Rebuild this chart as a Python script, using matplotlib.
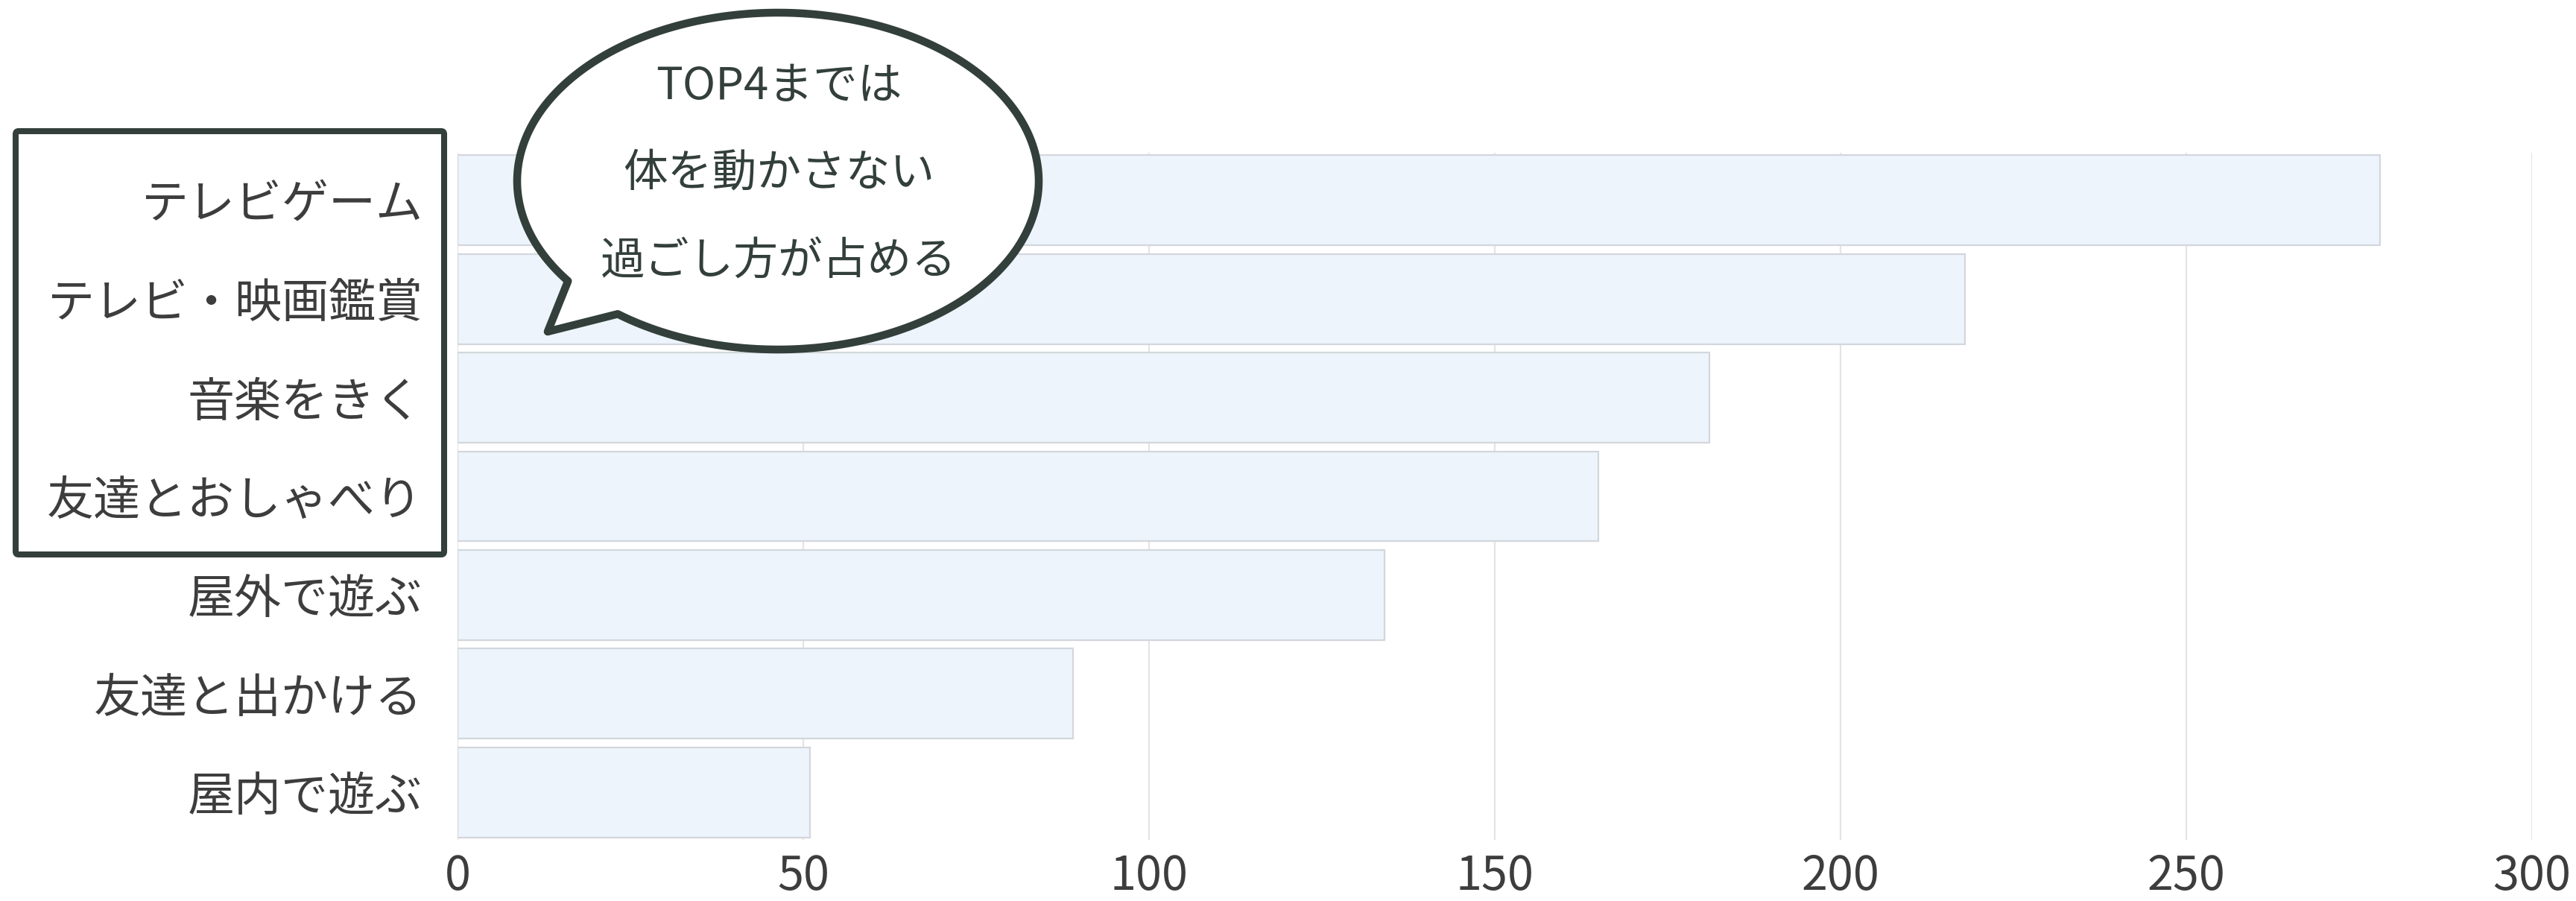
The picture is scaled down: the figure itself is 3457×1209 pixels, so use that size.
import numpy as np
import matplotlib
matplotlib.use("Agg")
import matplotlib.pyplot as plt
from matplotlib.patches import PathPatch, FancyBboxPatch
from matplotlib.path import Path

plt.rcParams['font.family'] = ['Noto Sans CJK JP', 'DejaVu Sans']

# data
categories = ['テレビゲーム', 'テレビ・映画鑑賞', '音楽をきく', '友達とおしゃべり',
              '屋外で遊ぶ', '友達と出かける', '屋内で遊ぶ']
values = [278, 218, 181, 165, 134, 89, 51]
x_ticks = [0, 50, 100, 150, 200, 250, 300]
bubble_lines = ['TOP4までは', '体を動かさない', '過ごし方が占める']

W, H, DPI = 3457, 1209, 200
DARK = '#333f3a'
TXT = '#3d3d3d'

fig = plt.figure(figsize=(W / DPI, H / DPI), dpi=DPI)
ax = fig.add_axes([614 / W, 1 - 1127 / H, (3398 - 614) / W, 922 / H])

y = np.arange(len(categories))
ax.barh(y, values, height=0.913, color='#edf4fb', edgecolor='#d3d7dc', linewidth=0.8, zorder=2)
ax.set_xlim(0, 300)
ax.set_ylim(6.48, -0.48)
ax.set_xticks(x_ticks)
ax.set_yticks(y, categories)
ax.tick_params(length=0, labelsize=22.7, colors=TXT)
ax.tick_params(axis='y', pad=17)
ax.tick_params(axis='x', pad=6)
ax.grid(axis='x', color='#e4e4e4', lw=0.8, zorder=0)
ax.set_axisbelow(True)
for s in ax.spines.values():
    s.set_visible(False)

# overlay in pixel coords for the box and the speech bubble
ov = fig.add_axes([0, 0, 1, 1])
ov.set_xlim(0, W); ov.set_ylim(H, 0); ov.axis('off')
ov.patch.set_alpha(0)

ov.add_patch(FancyBboxPatch((21, 176), 575, 568, boxstyle='round,pad=0,rounding_size=4',
                            fill=False, ec=DARK, lw=2.9))

# bubble: ellipse with a tail pointing down-left
cx, cy, a, b = 1044, 243, 350, 226
t = np.radians(np.linspace(143.6, 127.9 + 360, 400))
pts = np.column_stack([cx + a * np.cos(t), cy + b * np.sin(t)])
pts = np.vstack([pts, [[735, 445]], pts[:1]])
codes = [Path.MOVETO] + [Path.LINETO] * (len(pts) - 2) + [Path.CLOSEPOLY]
ov.add_patch(PathPatch(Path(pts, codes), fc='white', ec=DARK, lw=3.8, joinstyle='round'))

for txt, ty in zip(bubble_lines, [117, 233, 352]):
    ov.text(1045, ty, txt, ha='center', va='center', fontsize=21.5, color=DARK)

fig.savefig('out.png', dpi=DPI)
